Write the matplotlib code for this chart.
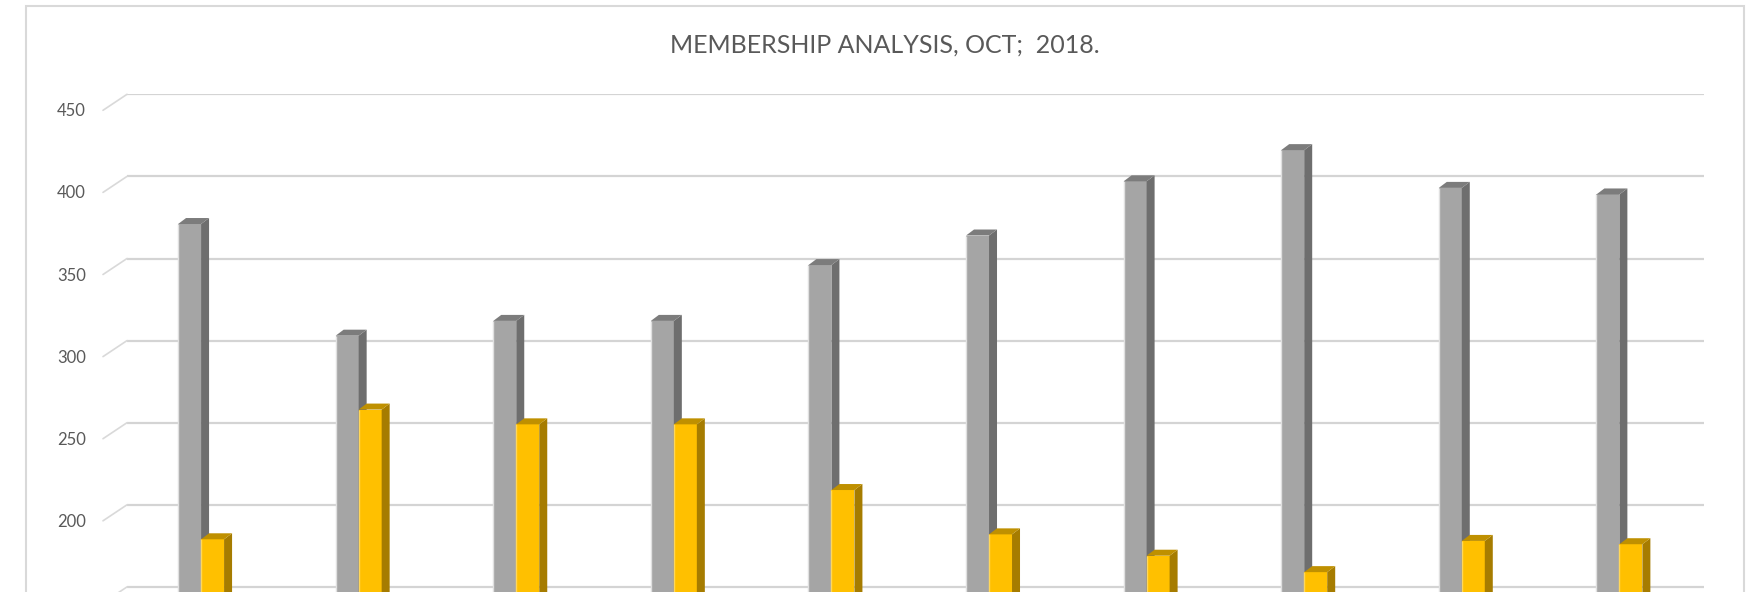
import matplotlib
matplotlib.use("Agg")
import matplotlib.pyplot as plt
from matplotlib.patches import Polygon, Rectangle

# ---- data ----
categories = ["1", "2", "3", "4", "5", "6", "7", "8", "9", "10"]
series_gray = [371, 303, 312, 312, 346, 364, 397, 416, 393, 389]
series_gold = [179, 258, 249, 249, 209, 182, 169, 159, 178, 176]
y_ticks = [150, 200, 250, 300, 350, 400, 450]
title_text = "MEMBERSHIP ANALYSIS, OCT;  2018."

# ---- layout ----
W, H, DPI = 1754, 592, 100
fig = plt.figure(figsize=(W / DPI, H / DPI), dpi=DPI)
fig.patch.set_facecolor("white")

plt.rcParams["font.family"] = ["Lato", "DejaVu Sans"]

left_px, right_px, top_px = 127, 1704, 94.3
ax = fig.add_axes([left_px / W, 0, (right_px - left_px) / W, (H - top_px) / H])
ymin, ymax = 146.9, 450
ax.set_ylim(ymin, ymax)
x0, x1 = -0.47, 9.537
ax.set_xlim(x0, x1)
for s in ax.spines.values():
    s.set_visible(False)
ax.set_xticks([])
ax.set_yticks(y_ticks)
ax.set_yticklabels([])
ax.tick_params(axis="y", length=0)
ax.yaxis.grid(True, color="#d4d4d4", linewidth=1.6)
ax.set_axisbelow(True)
ax.patch.set_alpha(0)

# pixel -> data scale
px_per_x = (right_px - left_px) / (x1 - x0)
px_per_y = (H - top_px) / (ymax - ymin)
dx = 8 / px_per_x
dy = 6 / px_per_y
bw = 23 / px_per_x

def bar3d(xl, val, front, side, top, edge, z):
    ax.bar(xl, val, width=bw, align="edge", color=front, zorder=z,
           edgecolor="none")
    ax.plot([xl, xl], [0, val], color=edge, lw=1.0, zorder=z + 0.05,
            solid_capstyle="butt")
    xr = xl + bw
    ax.add_patch(Polygon([(xr, 0), (xr, val), (xr + dx, val + dy), (xr + dx, 0)],
                         closed=True, facecolor=side, edgecolor="none", zorder=z + 0.1))
    ax.add_patch(Polygon([(xl, val), (xr, val), (xr + dx, val + dy), (xl + dx, val + dy)],
                         closed=True, facecolor=top, edgecolor="none", zorder=z + 0.2,
                         clip_on=False))

for i, (g, y) in enumerate(zip(series_gray, series_gold)):
    bar3d(i - bw, g, "#a5a5a5", "#6e6e6e", "#7c7c7c", "#e0e0e0", 3)
    bar3d(i, y, "#ffc000", "#a67c00", "#bf9000", "#ffd75a", 4)

# y tick labels on the front edge, with small diagonal stubs
for t in y_ticks:
    ax.annotate("", xy=(0, t), xycoords=("axes fraction", "data"),
                xytext=(-24, -16), textcoords="offset pixels",
                arrowprops=dict(arrowstyle="-", color="#d9d9d9", lw=1.2,
                                shrinkA=0, shrinkB=0))
    # the label of the lowest tick falls below the cropped bottom edge
    label_px = top_px + (ymax - t) * px_per_y + 17
    if label_px + 8 < H:
        ax.annotate(str(t), xy=(0, t), xycoords=("axes fraction", "data"),
                    xytext=(-41, -17), textcoords="offset pixels",
                    ha="right", va="center", fontsize=12, color="#595959",
                    annotation_clip=False)

# chart border
fig.add_artist(Rectangle((26 / W, -0.05), (1744 - 26) / W, 1.05 - 6 / H,
                         transform=fig.transFigure, fill=False,
                         edgecolor="#d9d9d9", linewidth=1.5))

fig.text(885 / W, 1 - 45 / H, title_text, ha="center", va="center",
         fontsize=18, color="#595959")

fig.savefig("out.png", dpi=DPI)
